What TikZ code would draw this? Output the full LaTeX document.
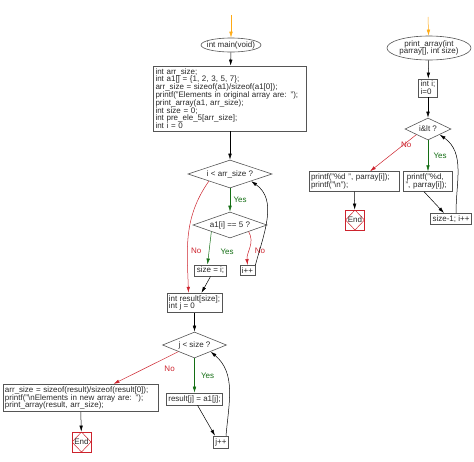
\documentclass[tikz,border=0pt]{standalone}
\usepackage{fontspec}
\setmainfont{Liberation Sans}
\usetikzlibrary{shapes.geometric,arrows.meta,positioning}

\definecolor{startorange}{RGB}{255,170,20}
\definecolor{noline}{RGB}{205,35,45}
\definecolor{yesline}{RGB}{20,110,20}
\definecolor{boxline}{RGB}{85,85,85}
\definecolor{codetext}{RGB}{40,40,40}

\tikzset{
  every node/.style={font=\fontsize{8}{7.8}\selectfont, text=codetext},
  flow/.style={draw=black, line width=0.5pt, -{Latex[length=6pt,width=3.5pt]}},
  noflow/.style={flow, draw=noline},
  yesflow/.style={flow, draw=yesline},
  startflow/.style={flow, draw=startorange},
  nolabel/.style={text=noline},
  yeslabel/.style={text=yesline},
  codebox/.style={draw=boxline, line width=0.7pt, rectangle, inner xsep=2pt, inner ysep=2.2pt, align=left},
  funcell/.style={draw=boxline, line width=0.6pt, ellipse, inner sep=0.5pt, align=center},
  testbox/.style={draw=boxline, line width=0.6pt, diamond, aspect=3, inner sep=0.5pt},
  endbox/.style={draw=noline, line width=0.6pt, rectangle, minimum width=19pt, minimum height=20pt, inner sep=0pt,
    path picture={\draw[noline, line width=0.5pt] (path picture bounding box.north) -- (path picture bounding box.east)
      -- (path picture bounding box.south) -- (path picture bounding box.west) -- cycle;}}
}

\begin{document}
\begin{tikzpicture}[x=1pt, y=-1pt]
  \useasboundingbox (0,0) rectangle (474,461);

  % main()
  \coordinate (mainstart) at (231,15);
  \node[funcell, inner xsep=-4pt, minimum width=60pt, minimum height=14pt] (mainfn) at (231,45) {int main(void)};
  \node[codebox, text width=149pt] (decls) at (230,98.5) {int arr\_size;\\
    int a1[] = \{1, 2, 3, 5, 7\};\\
    arr\_size = sizeof(a1)/sizeof(a1[0]);\\
    printf("Elements in original array are: ");\\
    print\_array(a1, arr\_size);\\
    int size = 0;\\
    int pre\_ele\_5[arr\_size];\\
    int i = 0};
  \node[testbox, minimum width=84pt, minimum height=28pt] (iloop) at (230,174) {i < arr\_size ?};
  \node[testbox, minimum width=74pt, minimum height=26pt] (isfive) at (230,225) {a1[i] == 5 ?};
  \node[codebox] (setsize) at (210.5,270.5) {size = i;};
  \node[codebox] (iinc) at (247.5,270.5) {i++};
  \node[codebox] (result) at (194.5,303) {int result[size];\\int j = 0};
  \node[testbox, minimum width=64pt, minimum height=26pt] (jloop) at (194.5,345) {j < size ?};
  \node[codebox] (copyelem) at (194.5,399) {result[j] = a1[j];};
  \node[codebox] (jinc) at (221,442) {j++};
  \node[codebox, text width=151pt] (newarr) at (80.5,398) {arr\_size = sizeof(result)/sizeof(result[0]);\\
    printf("\textbackslash nElements in new array are: ");\\
    print\_array(result, arr\_size);};
  \node[endbox] (mainend) at (81.5,442) {End};

  \draw[startflow] (mainstart) -- (mainfn);
  \draw[flow] (mainfn) -- (decls);
  \draw[flow] (decls) -- (iloop);
  \draw[yesflow] (iloop) -- (isfive) node[midway, right, yeslabel] {Yes};
  \draw[yesflow] (isfive.south west) -- ([xshift=-3pt]setsize.north) node[pos=0.6, right=8pt, yeslabel] {Yes};
  \draw[noflow] (isfive.south east) to[out=-60, in=95] node[pos=0.6, right=2pt, nolabel] {No} (iinc.north);
  \draw[flow] (iinc.north east) to[out=75, in=-35] (iloop.south east);
  \draw[noflow] (iloop.south west) to[out=-125, in=92] node[pos=0.65, right, nolabel] {No} ([xshift=-6pt]result.north);
  \draw[flow] (setsize.south) -- ([xshift=7pt]result.north);
  \draw[flow] (result) -- (jloop);
  \draw[yesflow] (jloop) -- (copyelem) node[midway, right=3pt, yeslabel] {Yes};
  \draw[noflow] (jloop.south west) -- ([xshift=33pt]newarr.north) node[pos=0.3, below right=1pt and 2pt, nolabel] {No};
  \draw[flow] ([xshift=3pt]copyelem.south) -- ([xshift=-6pt]jinc.north);
  \draw[flow] ([xshift=5pt]jinc.north) to[out=85, in=-40] (jloop.south east);
  \draw[flow] (newarr) -- (mainend);

  % print_array()
  \coordinate (printstart) at (428,17);
  \node[funcell, inner xsep=-2pt, minimum width=84pt, minimum height=24pt] (printfn) at (429,48) {print\_array(int\\parray[], int size)};
  \node[codebox] (initi) at (428,88) {int i;\\i=0};
  \node[testbox, minimum width=46pt, minimum height=22pt] (ptest) at (428,129) {i\&lt ?};
  \node[codebox, text width=45pt] (printitem) at (428,181.5) {\,printf("\%d,\\", parray[i]);};
  \node[codebox, text width=86pt] (printlast) at (354,181.5) {printf("\%d ", parray[i]);\\printf("\textbackslash n");};
  \node[endbox] (printend) at (355,220) {End};
  \node[codebox] (pinc) at (451,219) {size-1; i++};

  \draw[startflow] (printstart) -- (printfn);
  \draw[flow] (printfn) -- (initi);
  \draw[flow] (initi) -- (ptest);
  \draw[yesflow] (ptest) -- (printitem) node[midway, right=2pt, yeslabel] {Yes};
  \draw[noflow] (ptest.south west) -- ([xshift=16pt]printlast.north) node[pos=0.45, above right=0pt and 2pt, nolabel] {No};
  \draw[flow] (printlast) -- (printend);
  \draw[flow] ([xshift=-4pt]printitem.south) -- ([xshift=-7pt]pinc.north);
  \draw[flow] ([xshift=5pt]pinc.north) to[out=90, in=-35] (ptest.south east);
\end{tikzpicture}
\end{document}
